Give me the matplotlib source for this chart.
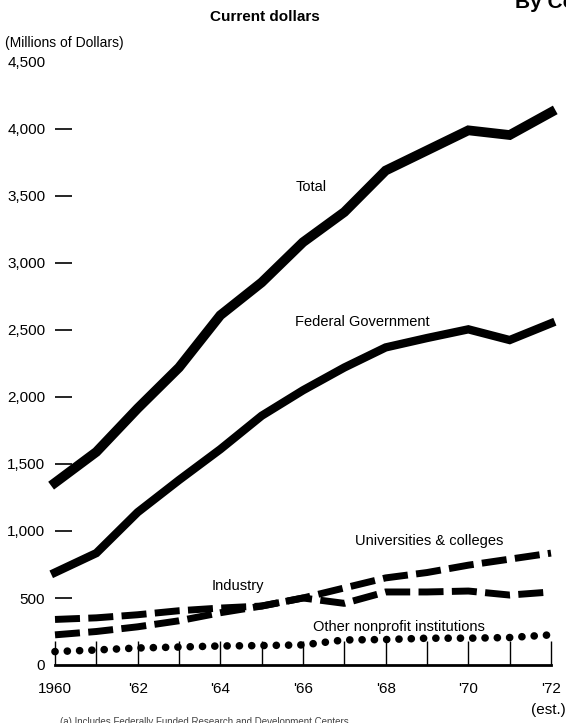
import matplotlib.pyplot as plt
from matplotlib.ticker import FixedLocator

plt.rcParams['font.family'] = ['Liberation Sans', 'DejaVu Sans']

# datos (millones de dolares corrientes)
anios = [1960, 1961, 1962, 1963, 1964, 1965, 1966, 1967, 1968, 1969, 1970, 1971, 1972]
total = [1360, 1590, 1915, 2220, 2610, 2855, 3155, 3380, 3690, 3840, 3990, 3955, 4125]
federal = [690, 835, 1140, 1380, 1610, 1860, 2050, 2220, 2370, 2440, 2505, 2425, 2550]
universidades = [225, 250, 285, 330, 390, 440, 500, 575, 650, 690, 745, 790, 835]
industria = [340, 352, 375, 405, 425, 440, 500, 460, 545, 545, 552, 522, 545]
otras = [100, 112, 127, 134, 142, 145, 150, 187, 190, 200, 200, 205, 225]

y_ticks = [0, 500, 1000, 1500, 2000, 2500, 3000, 3500, 4000, 4500]
y_labels = ["0", "500", "1,000", "1,500", "2,000", "2,500", "3,000", "3,500", "4,000", "4,500"]
x_ticks = [1960, 1962, 1964, 1966, 1968, 1970, 1972]
x_labels = ["1960", "'62", "'64", "'66", "'68", "'70", "'72"]

W, H = 566, 723
fig = plt.figure(figsize=(W / 100, H / 100), dpi=100)
# ejes colocados en pixeles: 1960 -> x=55, 1972 -> x=551, 0 -> y=665, 4500 -> y=62
ax = fig.add_axes([55 / W, (H - 665) / H, (551 - 55) / W, (665 - 62) / H])
ax.set_xlim(1960, 1972)
ax.set_ylim(0, 4500)

ax.plot(anios, total, color="black", lw=7, solid_joinstyle="miter", clip_on=False)
ax.plot(anios, federal, color="black", lw=6, solid_joinstyle="miter", clip_on=False)
ax.plot(anios, universidades, color="black", lw=5, dashes=(3.6, 1.2), clip_on=False)
ax.plot(anios, industria, color="black", lw=5, dashes=(3.6, 1.2), clip_on=False)
ax.plot(anios, otras, color="black", lw=5.5, dashes=(0.01, 1.6),
        dash_capstyle="round", clip_on=False)

for s in ["top", "right", "left"]:
    ax.spines[s].set_visible(False)
ax.spines["bottom"].set_linewidth(2)

ax.set_xticks(x_ticks)
ax.set_xticklabels(x_labels, fontsize=11)
ax.xaxis.set_minor_locator(FixedLocator(anios[1:-1]))
ax.tick_params(axis="x", which="both", direction="in", length=17, width=1, pad=12)

ax.set_yticks(y_ticks)
ax.set_yticklabels(y_labels, fontsize=11)
ax.tick_params(axis="y", direction="in", length=12, width=1.2, pad=7)
ax.yaxis.get_major_ticks()[0].tick1line.set_visible(False)
ax.yaxis.get_major_ticks()[-1].tick1line.set_visible(False)

# etiquetas de las series
ax.text(1965.83, 3567, "Total", fontsize=10.5, va="center")
ax.text(1965.8, 2560, "Federal Government", fontsize=10.5, va="center")
ax.text(1967.25, 925, "Universities & colleges", fontsize=10.5, va="center")
ax.text(1963.8, 590, "Industry", fontsize=10.5, va="center")
ax.text(1966.23, 284, "Other nonprofit institutions", fontsize=10.5, va="center")

fig.text(265 / W, 1 - 17 / H, "Current dollars", fontsize=11, fontweight="bold",
         ha="center", va="center")
fig.text(5 / W, 1 - 43 / H, "(Millions of Dollars)", fontsize=10, va="center")
fig.text(515 / W, 1 - 2 / H, "By Co", fontsize=15, fontweight="bold", va="center")
fig.text(548 / W, 1 - 710 / H, "(est.)", fontsize=11, ha="center", va="center")
fig.text(60 / W, 1 - 717 / H, "(a) Includes Federally Funded Research and Development Centers",
         fontsize=7, color="#444444", va="top")

fig.savefig("out.png", dpi=100)
